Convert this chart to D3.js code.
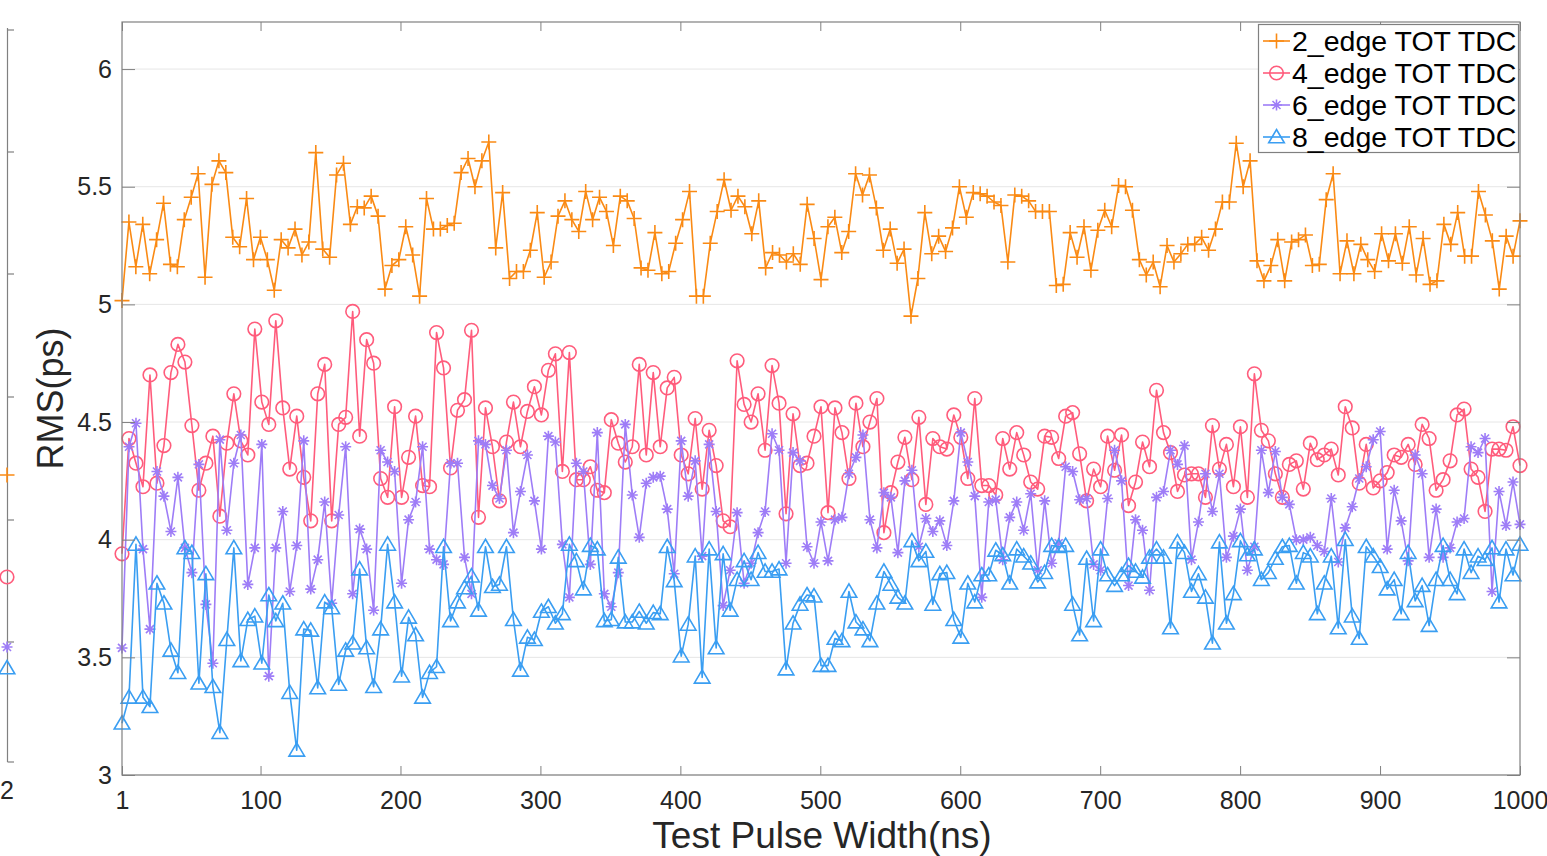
<!DOCTYPE html>
<html>
<head>
<meta charset="utf-8">
<script src="https://cdn.jsdelivr.net/npm/d3@7/dist/d3.min.js"></script>
<style>
  html, body { margin: 0; padding: 0; background: #fff; }
  svg { display: block; }
  text { font-family: "Liberation Sans", Arial, Helvetica, sans-serif; }
</style>
</head>
<body>
<svg id="chart" width="1547" height="856"></svg>
<script>
// ---------------- DATA ----------------
const seriesNames = ["2_edge TOT TDC", "4_edge TOT TDC", "6_edge TOT TDC", "8_edge TOT TDC"];
const xTickValues = [1, 100, 200, 300, 400, 500, 600, 700, 800, 900, 1000];
const yTickValues = [3, 3.5, 4, 4.5, 5, 5.5, 6];
const pulseWidthRange = [1, 1000];

const edge2 = [
  5.016, 5.35, 5.16, 5.34, 5.13, 5.275, 5.43, 5.17, 5.16, 5.36, 5.455, 5.555, 5.115, 5.51, 5.61, 5.56, 5.285, 5.245, 5.45, 5.19, 5.285, 5.19, 5.06, 5.275, 5.24, 5.32, 5.21, 5.265, 5.645, 5.235, 5.2, 5.55, 5.60, 5.34, 5.415, 5.41, 5.46, 5.375, 5.065, 5.165, 5.19, 5.33, 5.21, 5.035, 5.45, 5.32, 5.32, 5.335, 5.345, 5.56, 5.62, 5.5,
  5.61, 5.69, 5.24, 5.475, 5.11, 5.14, 5.14, 5.23, 5.39, 5.115, 5.18, 5.375, 5.44, 5.36, 5.31, 5.48, 5.36, 5.455, 5.395, 5.25, 5.46, 5.44, 5.365, 5.155, 5.145, 5.305, 5.13, 5.14, 5.26, 5.36, 5.48, 5.035, 5.035, 5.26, 5.395, 5.53, 5.40, 5.46, 5.415, 5.30, 5.44, 5.155, 5.22, 5.21, 5.18, 5.215, 5.17, 5.425, 5.28, 5.105,
  5.33, 5.37, 5.22, 5.31, 5.555, 5.465, 5.55, 5.41, 5.23, 5.32, 5.175, 5.235, 4.95, 5.11, 5.39, 5.215, 5.29, 5.225, 5.325, 5.5, 5.37, 5.475, 5.47, 5.46, 5.435, 5.42, 5.18, 5.465, 5.46, 5.44, 5.395, 5.395, 5.395, 5.08, 5.085, 5.305, 5.2, 5.33, 5.145, 5.315, 5.40, 5.33, 5.505, 5.50, 5.40, 5.19, 5.125, 5.18, 5.075, 5.25, 5.18,
  5.215, 5.255, 5.255, 5.285, 5.23, 5.32, 5.435, 5.435, 5.685, 5.50, 5.61, 5.185, 5.10, 5.165, 5.275, 5.10, 5.265, 5.275, 5.295, 5.165, 5.17, 5.445, 5.555, 5.13, 5.27, 5.13, 5.255, 5.19, 5.14, 5.30, 5.185, 5.30, 5.175, 5.33, 5.125, 5.28, 5.085, 5.10, 5.34, 5.255, 5.39, 5.205, 5.205, 5.48, 5.38, 5.27, 5.065, 5.29, 5.205, 5.355
];
const edge4 = [
  3.94, 4.43, 4.325, 4.225, 4.70, 4.24, 4.40, 4.71, 4.83, 4.755, 4.485, 4.21, 4.325, 4.44, 4.10, 4.41, 4.62, 4.42, 4.36, 4.895, 4.585, 4.49, 4.93, 4.56, 4.30,
  4.525, 4.265, 4.08, 4.62, 4.745, 4.08, 4.49, 4.52, 4.97, 4.44, 4.85, 4.75, 4.26, 4.18, 4.565, 4.18, 4.35, 4.525, 4.23, 4.225, 4.88, 4.73, 4.305, 4.55,
  4.595, 4.89, 4.095, 4.56, 4.395, 4.165, 4.415, 4.585, 4.395, 4.545, 4.65, 4.53, 4.72, 4.79, 4.29, 4.795, 4.255, 4.255, 4.31, 4.21, 4.20, 4.51, 4.41, 4.33, 4.395,
  4.745, 4.36, 4.71, 4.395, 4.645, 4.69, 4.36, 4.28, 4.515, 4.215, 4.465, 4.315, 4.08, 4.055, 4.76, 4.575, 4.50, 4.62, 4.38, 4.74, 4.58, 4.11, 4.535, 4.315,
  4.325, 4.44, 4.565, 4.115, 4.56, 4.455, 4.26, 4.58, 4.395, 4.50, 4.60, 4.03, 4.20, 4.33, 4.435, 4.255, 4.52, 4.15, 4.43, 4.395, 4.385, 4.53, 4.435, 4.26, 4.60,
  4.23, 4.23, 4.19, 4.43, 4.30, 4.455, 4.36, 4.245, 4.215, 4.44, 4.435, 4.345, 4.525, 4.54, 4.365, 4.165, 4.30, 4.225, 4.44, 4.295, 4.445, 4.145, 4.245, 4.415,
  4.31, 4.635, 4.455, 4.37, 4.205, 4.275, 4.28, 4.28, 4.18, 4.485, 4.30, 4.405, 4.225, 4.48, 4.18, 4.705, 4.465, 4.42, 4.28, 4.18, 4.32, 4.335, 4.215, 4.41,
  4.34, 4.36, 4.385, 4.275, 4.565, 4.475, 4.24, 4.405, 4.22, 4.25, 4.285, 4.36, 4.35, 4.405, 4.32, 4.49, 4.43, 4.21, 4.255, 4.335, 4.53, 4.555, 4.30, 4.265, 4.12, 4.385, 4.385, 4.38, 4.48, 4.315
];
const edge6 = [
  3.54, 4.395, 4.495, 3.96, 3.62, 4.29, 4.185, 4.035, 4.265, 3.965, 3.86, 4.32, 3.725, 3.475, 4.425, 4.04, 4.325, 4.445, 3.81, 3.965, 4.405, 3.42, 3.965, 4.12, 3.78,
  3.975, 4.42, 3.79, 3.915, 4.16, 3.73, 4.105, 4.395, 3.77, 4.045, 3.96, 3.70, 4.38, 4.33, 4.29, 3.815, 4.085, 4.16, 4.395, 3.96, 3.915, 3.895, 4.325, 4.325,
  3.925, 3.77, 4.42, 4.405, 4.23, 4.175, 4.38, 4.03, 4.205, 4.36, 4.165, 3.96, 4.44, 4.415, 3.98, 3.755, 4.325, 4.29, 3.895, 4.455, 3.77, 3.715, 3.86, 4.49, 4.19,
  4.01, 4.24, 4.265, 4.27, 4.13, 3.855, 4.42, 4.185, 4.335, 3.93, 4.405, 4.12, 3.72, 3.87, 4.115, 3.815, 3.90, 4.03, 4.12, 4.45, 4.38, 3.90, 4.37, 4.335,
  3.97, 3.90, 4.075, 3.91, 4.085, 4.095, 4.28, 4.35, 4.445, 4.085, 3.965, 4.20, 4.18, 3.945, 4.25, 4.295, 3.97, 4.09, 4.035, 4.08, 3.975, 4.165, 4.455, 4.33, 4.185,
  3.755, 4.16, 4.17, 3.915, 4.095, 4.16, 4.04, 4.195, 3.87, 4.165, 3.90, 3.985, 4.31, 4.29, 4.17, 4.175, 3.895, 3.87, 4.175, 4.38, 4.25, 3.805, 4.085,
  4.04, 3.785, 4.18, 4.205, 4.38, 4.32, 4.40, 3.915, 4.075, 4.28, 4.12, 4.28, 3.925, 4.015, 4.13, 3.87, 3.97, 4.38, 4.20, 4.375, 4.18, 4.15, 4.00, 4.00,
  4.01, 3.975, 3.95, 4.175, 3.905, 4.05, 4.14, 4.26, 4.31, 4.425, 4.46, 3.96, 4.21, 4.08, 3.91, 4.36, 4.28, 3.925, 4.13, 3.925, 3.965, 4.075, 4.09, 4.395, 4.37, 4.43, 3.78, 4.205, 4.06, 4.245, 4.065
];
const edge8 = [
  3.22, 3.33, 3.98, 3.33, 3.29, 3.815, 3.73, 3.53, 3.435, 3.965, 3.945, 3.39, 3.855, 3.375, 3.18, 3.575, 3.965, 3.485, 3.66, 3.675, 3.475, 3.765, 3.655, 3.73, 3.35,
  3.105, 3.62, 3.615, 3.37, 3.735, 3.71, 3.385, 3.53, 3.56, 3.875, 3.54, 3.375, 3.62, 3.98, 3.735, 3.42, 3.67, 3.595, 3.33, 3.435, 3.46, 3.97, 3.655, 3.735,
  3.795, 3.845, 3.70, 3.97, 3.80, 3.81, 3.97, 3.66, 3.445, 3.585, 3.575, 3.695, 3.715, 3.645, 3.685, 3.98, 3.91, 3.79, 3.975, 3.96, 3.655, 3.66, 3.925, 3.65, 3.65,
  3.695, 3.645, 3.69, 3.685, 3.97, 3.825, 3.505, 3.64, 3.93, 3.415, 3.96, 3.54, 3.94, 3.70, 3.83, 3.91, 3.83, 3.945, 3.865, 3.865, 3.875, 3.45, 3.645, 3.725,
  3.765, 3.76, 3.465, 3.465, 3.58, 3.57, 3.78, 3.65, 3.62, 3.57, 3.73, 3.865, 3.81, 3.755, 3.73, 3.995, 3.91, 3.95, 3.725, 3.855, 3.86, 3.66, 3.585, 3.815,
  3.735, 3.85, 3.85, 3.955, 3.935, 3.815, 3.96, 3.93, 3.90, 3.82, 3.86, 3.975, 3.97, 3.975, 3.725, 3.595, 3.92, 3.655, 3.96, 3.85, 3.805, 3.85, 3.89, 3.865, 3.84,
  3.925, 3.96, 3.925, 3.625, 3.99, 3.945, 3.78, 3.855, 3.755, 3.56, 3.99, 3.645, 3.77, 3.995, 3.935, 3.96, 3.83, 3.86, 3.92, 3.97, 3.975, 3.815, 3.945,
  3.93, 3.685, 3.815, 3.93, 3.625, 4.0, 3.675, 3.58, 3.97, 3.93, 3.885, 3.79, 3.83, 3.685, 3.945, 3.74, 3.805, 3.635, 3.83, 3.975, 3.83, 3.77, 3.96, 3.86, 3.93, 3.915, 3.965, 3.735, 3.96, 3.85, 3.98
];

// ---------------- STYLE ----------------
const colors = ["#FA8A14", "#FF5C7C", "#9E7DF7", "#3A9EF2"];
const markers = ["plus", "circle", "star", "triangle"];

const svg = d3.select("#chart");
const m = { left: 122, right: 1520, top: 22, bottom: 775 };

const x = d3.scaleLinear().domain(pulseWidthRange).range([m.left, m.right]);
const y = d3.scaleLinear().domain([3, 6.2]).range([m.bottom, m.top]);

const axisColor = "#808080";
const textColor = "#262626";

// grid
svg.append("g").selectAll("line").data(yTickValues).join("line")
  .attr("x1", m.left).attr("x2", m.right)
  .attr("y1", d => y(d)).attr("y2", d => y(d))
  .attr("stroke", "#e6e6e6").attr("stroke-width", 1);

// marker drawing
function drawMarker(g, type, color) {
  if (type === "plus") {
    g.append("path").attr("d", "M-7.5,0H7.5M0,-7.5V7.5").attr("stroke", color).attr("stroke-width", 1.6).attr("fill", "none");
  } else if (type === "circle") {
    g.append("circle").attr("r", 6.8).attr("stroke", color).attr("stroke-width", 1.6).attr("fill", "none");
  } else if (type === "star") {
    g.append("path").attr("d", "M-5.5,0H5.5M0,-5.5V5.5M-4,-4L4,4M-4,4L4,-4").attr("stroke", color).attr("stroke-width", 1.6).attr("fill", "none");
  } else if (type === "triangle") {
    g.append("path").attr("d", "M0,-7.5L7.8,5.8H-7.8Z").attr("stroke", color).attr("stroke-width", 1.6).attr("fill", "none");
  }
}

const allSeries = [edge2, edge4, edge6, edge8];
const plot = svg.append("g");
allSeries.forEach((vals, si) => {
  const n = vals.length;
  const pts = vals.map((v, i) => ({
    px: pulseWidthRange[0] + i * (pulseWidthRange[1] - pulseWidthRange[0]) / (n - 1),
    v
  }));
  const line = d3.line().x(d => x(d.px)).y(d => y(d.v));
  const g = plot.append("g");
  g.append("path").datum(pts).attr("d", line)
    .attr("fill", "none").attr("stroke", colors[si]).attr("stroke-width", 1.6)
    .attr("stroke-linejoin", "round");
  pts.forEach(d => {
    const mg = g.append("g").attr("transform", `translate(${x(d.px)},${y(d.v)})`);
    drawMarker(mg, markers[si], colors[si]);
  });
});

// axes box
svg.append("rect").attr("x", m.left).attr("y", m.top)
  .attr("width", m.right - m.left).attr("height", m.bottom - m.top)
  .attr("fill", "none").attr("stroke", axisColor).attr("stroke-width", 1.2);

// bottom axis
const xAxis = d3.axisBottom(x).tickValues(xTickValues).tickSize(-9).tickPadding(16).tickFormat(d3.format("d"));
const gx = svg.append("g").attr("transform", `translate(0,${m.bottom})`).call(xAxis);
gx.select(".domain").remove();
gx.selectAll(".tick line").attr("stroke", axisColor);
gx.selectAll(".tick text").attr("fill", textColor).style("font-size", "25px")
  .style("font-family", '"Liberation Sans", Arial, sans-serif');
// top ticks
const gxt = svg.append("g").attr("transform", `translate(0,${m.top})`)
  .call(d3.axisTop(x).tickValues(xTickValues).tickSize(-9).tickFormat(""));
gxt.select(".domain").remove();
gxt.selectAll(".tick line").attr("stroke", axisColor);

// left axis
const yAxis = d3.axisLeft(y).tickValues(yTickValues).tickSize(-13).tickPadding(10).tickFormat(d => d);
const gy = svg.append("g").attr("transform", `translate(${m.left},0)`).call(yAxis);
gy.select(".domain").remove();
gy.selectAll(".tick line").attr("stroke", axisColor);
gy.selectAll(".tick text").attr("fill", textColor).style("font-size", "25px")
  .style("font-family", '"Liberation Sans", Arial, sans-serif');
// right ticks
const gyr = svg.append("g").attr("transform", `translate(${m.right},0)`)
  .call(d3.axisRight(y).tickValues(yTickValues).tickSize(-13).tickFormat(""));
gyr.select(".domain").remove();
gyr.selectAll(".tick line").attr("stroke", axisColor);

// axis labels
svg.append("text").attr("x", 822).attr("y", 848)
  .attr("text-anchor", "middle").attr("fill", textColor).style("font-size", "37px")
  .text("Test Pulse Width(ns)");
svg.append("text").attr("transform", `translate(63,${(m.top + m.bottom) / 2}) rotate(-90)`)
  .attr("text-anchor", "middle").attr("fill", textColor).style("font-size", "36px")
  .text("RMS(ps)");

// legend
const lg = svg.append("g");
lg.append("rect").attr("x", 1258.5).attr("y", 24.5).attr("width", 260).attr("height", 128)
  .attr("fill", "#fff").attr("stroke", axisColor).attr("stroke-width", 1.2);
seriesNames.forEach((name, i) => {
  const cy = 41 + i * 32;
  lg.append("line").attr("x1", 1263).attr("x2", 1290).attr("y1", cy).attr("y2", cy)
    .attr("stroke", colors[i]).attr("stroke-width", 1.6);
  const mg = lg.append("g").attr("transform", `translate(1276.5,${cy})`);
  drawMarker(mg, markers[i], colors[i]);
  lg.append("text").attr("x", 1292).attr("y", cy + 10).attr("fill", "#000")
    .style("font-size", "28.5px").text(name);
});

// fragment of neighbouring figure at far left
const frag = svg.append("g");
frag.append("line").attr("x1", 7.5).attr("x2", 7.5).attr("y1", 28).attr("y2", 762)
  .attr("stroke", axisColor).attr("stroke-width", 1.2);
[30, 152, 274, 397, 520, 642, 762].forEach(t => {
  frag.append("line").attr("x1", 7.5).attr("x2", 14).attr("y1", t).attr("y2", t)
    .attr("stroke", axisColor).attr("stroke-width", 1.2);
});
[[475, 0], [577, 1], [647, 2], [668, 3]].forEach(([py, i]) => {
  const mg = frag.append("g").attr("transform", `translate(7,${py})`);
  drawMarker(mg, markers[i], colors[i]);
});
frag.append("text").attr("x", 0).attr("y", 799).attr("fill", textColor)
  .style("font-size", "25px").text("2");
</script>
</body>
</html>
